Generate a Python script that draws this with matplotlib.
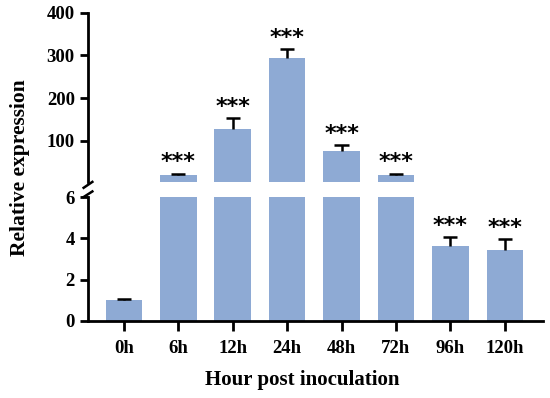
import numpy as np
import matplotlib
matplotlib.use("Agg")
import matplotlib.pyplot as plt

plt.rcParams['font.family'] = ['Liberation Serif', 'DejaVu Serif']
plt.rcParams['font.weight'] = 'bold'

hours = ['0h', '6h', '12h', '24h', '48h', '72h', '96h', '120h']
means = [1.0, 19, 128, 293, 77, 19, 3.64, 3.43]
errs = [0.05, 4, 25, 21, 13, 4, 0.40, 0.52]
signif = ['', '***', '***', '***', '***', '***', '***', '***']

bar_color = '#8eaad4'
x = np.arange(len(hours))
cap = 0.13

fig = plt.figure(figsize=(5.5, 3.98), dpi=100)
ax_top = fig.add_axes([0.16, 0.543, 0.827, 0.425])
ax_bot = fig.add_axes([0.16, 0.194, 0.827, 0.311])

for ax in (ax_top, ax_bot):
    ax.bar(x, means, width=0.67, color=bar_color, zorder=2)
    ax.set_xlim(-0.66, 7.7)
    for s in ('top', 'right'):
        ax.spines[s].set_visible(False)
    ax.spines['left'].set_linewidth(2)
    ax.spines['bottom'].set_linewidth(2)
    ax.tick_params(axis='both', width=2, length=6, labelsize=13.5)

# upper error bars, drawn in the panel that holds the bar
for i in range(len(hours)):
    ax = ax_top if means[i] > 6 else ax_bot
    top = means[i] + errs[i]
    ax.vlines(x[i], means[i], top, color='black', lw=1.8, zorder=3)
    ax.hlines(top, x[i] - cap, x[i] + cap, color='black', lw=1.8, zorder=3)

ax_top.set_ylim(4, 400)
ax_top.set_yticks([100, 200, 300, 400])
ax_top.spines['bottom'].set_visible(False)
ax_top.tick_params(axis='x', bottom=False, labelbottom=False)

ax_bot.set_ylim(0, 6)
ax_bot.set_yticks([0, 2, 4, 6])
ax_bot.set_xticks(x)
ax_bot.set_xticklabels(hours)
ax_bot.tick_params(axis='x', length=7, pad=7)

for lab in ax_top.get_yticklabels() + ax_bot.get_yticklabels() + ax_bot.get_xticklabels():
    lab.set_fontweight('bold')

# significance stars
for i, s in enumerate(signif):
    if not s:
        continue
    top = means[i] + errs[i]
    ax = ax_top if means[i] > 6 else ax_bot
    ax.annotate(s, (x[i], top), xytext=(0, 1), textcoords='offset points',
                ha='center', va='bottom', fontsize=16, fontweight='bold',
                family='DejaVu Sans')

# break marks on the y axis
d = 0.012
kw = dict(color='black', lw=1.8, clip_on=False)
ax_top.plot([-d * 0.8, d * 0.8], [-0.035, 0.0], transform=ax_top.transAxes, **kw)
ax_bot.plot([-d * 0.8, d * 0.8], [1.0, 1.045], transform=ax_bot.transAxes, **kw)

fig.text(0.036, 0.578, 'Relative expression', rotation=90, ha='center', va='center',
         fontsize=15.5, fontweight='bold')
fig.text(0.55, 0.045, 'Hour post inoculation', ha='center', va='center',
         fontsize=15, fontweight='bold')

fig.savefig('out.png', dpi=100)
